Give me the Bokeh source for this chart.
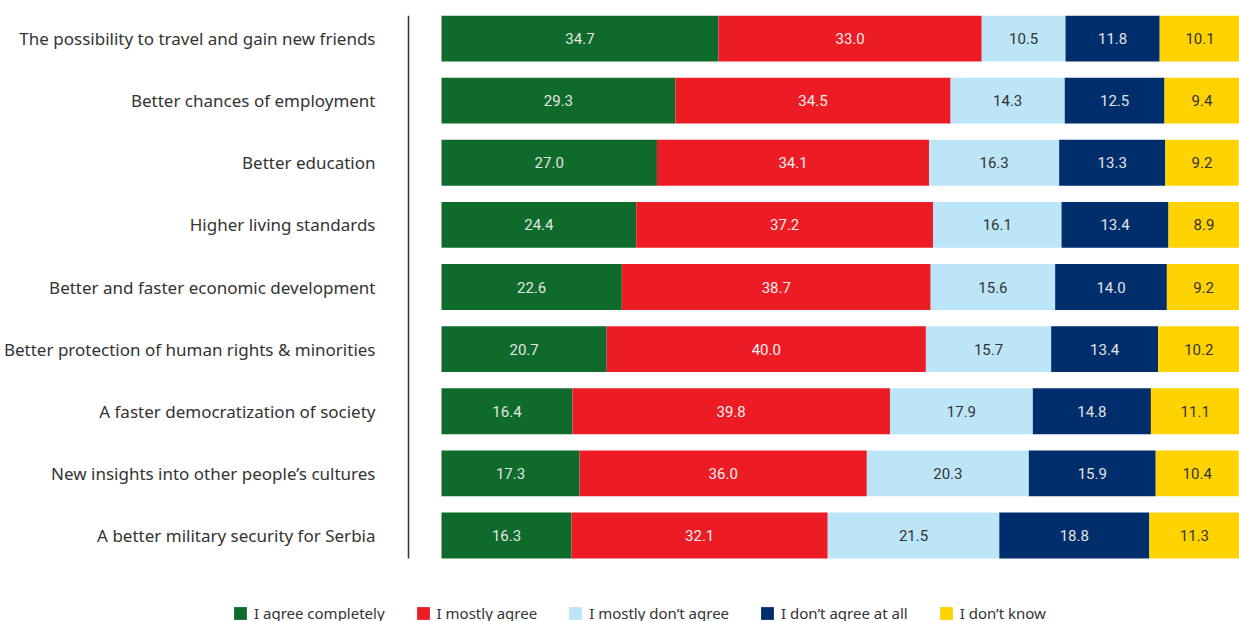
from bokeh.plotting import figure
from bokeh.models import Range1d, Legend, LegendItem, ColumnDataSource
from bokeh.core.properties import value
from bokeh.embed import file_html
from bokeh.resources import INLINE

categories = [
    "The possibility to travel and gain new friends",
    "Better chances of employment",
    "Better education",
    "Higher living standards",
    "Better and faster economic development",
    "Better protection of human rights & minorities",
    "A faster democratization of society",
    "New insights into other people\u2019s cultures",
    "A better military security for Serbia",
]
series_names = ["I agree completely", "I mostly agree", "I mostly don\u2019t agree",
                "I don\u2019t agree at all", "I don\u2019t know"]
agree_completely = [34.7, 29.3, 27.0, 24.4, 22.6, 20.7, 16.4, 17.3, 16.3]
mostly_agree = [33.0, 34.5, 34.1, 37.2, 38.7, 40.0, 39.8, 36.0, 32.1]
mostly_dont_agree = [10.5, 14.3, 16.3, 16.1, 15.6, 15.7, 17.9, 20.3, 21.5]
dont_agree_at_all = [11.8, 12.5, 13.3, 13.4, 14.0, 13.4, 14.8, 15.9, 18.8]
dont_know = [10.1, 9.4, 9.2, 8.9, 9.2, 10.2, 11.1, 10.4, 11.3]

colors = ["#0e6b2b", "#ed1c24", "#bde5f8", "#002e6d", "#ffd300"]
text_colors = ["#e4e4e4", "#f0f0f0", "#333333", "#e4e4e4", "#333333"]

series = [agree_completely, mostly_agree, mostly_dont_agree, dont_agree_at_all, dont_know]
ypos = list(range(len(categories)))

label_font = "Noto Sans"
value_font = "Roboto"
BAR_H = 0.74
HALF = BAR_H / 2
LABEL_X = -8.27      # right edge of category labels (data units)
SEP_X = -4.135       # vertical separator line (data units)

p = figure(width=1239, height=621, output_backend="svg", toolbar_location=None,
           x_range=Range1d(-55.263, 100), y_range=Range1d(9.384, -HALF),
           x_axis_location=None, y_axis_location=None,
           min_border_left=0, min_border_right=0, min_border_top=15, min_border_bottom=0)
p.outline_line_color = None
p.xgrid.visible = False
p.ygrid.visible = False

items = []
left = [0.0] * len(categories)
for k, vals in enumerate(series):
    right = [l + v for l, v in zip(left, vals)]
    src = ColumnDataSource(dict(y=ypos, left=left, right=right,
                                xc=[(l + r) / 2 for l, r in zip(left, right)],
                                txt=["%.1f" % v for v in vals]))
    r = p.hbar(y="y", left="left", right="right", height=BAR_H, source=src,
               fill_color=colors[k], line_color=None)
    p.text(x="xc", y="y", text="txt", source=src, text_align="center",
           text_baseline="middle", text_color=text_colors[k],
           text_font=value(value_font), text_font_size="15px")
    items.append(LegendItem(label=series_names[k], renderers=[r]))
    left = right

# category labels and separator line
p.text(x=[LABEL_X] * len(categories), y=ypos, text=categories, text_align="right",
       text_baseline="middle", text_color="#333333", text_font=value(label_font),
       text_font_size="17px")
p.segment(x0=[SEP_X], y0=[min(ypos) - HALF], x1=[SEP_X], y1=[max(ypos) + HALF],
          line_color="#333333", line_width=1.5)

legend = Legend(items=items, orientation="horizontal", location=(232, -2),
                margin=0, padding=0, spacing=30, glyph_width=16, glyph_height=16,
                label_standoff=6, label_height=16,
                label_text_font=label_font, label_text_font_size="15px",
                label_text_color="#333333", border_line_color=None,
                background_fill_alpha=0)
p.add_layout(legend, "center")

open("out.html", "w").write(file_html(p, INLINE))
